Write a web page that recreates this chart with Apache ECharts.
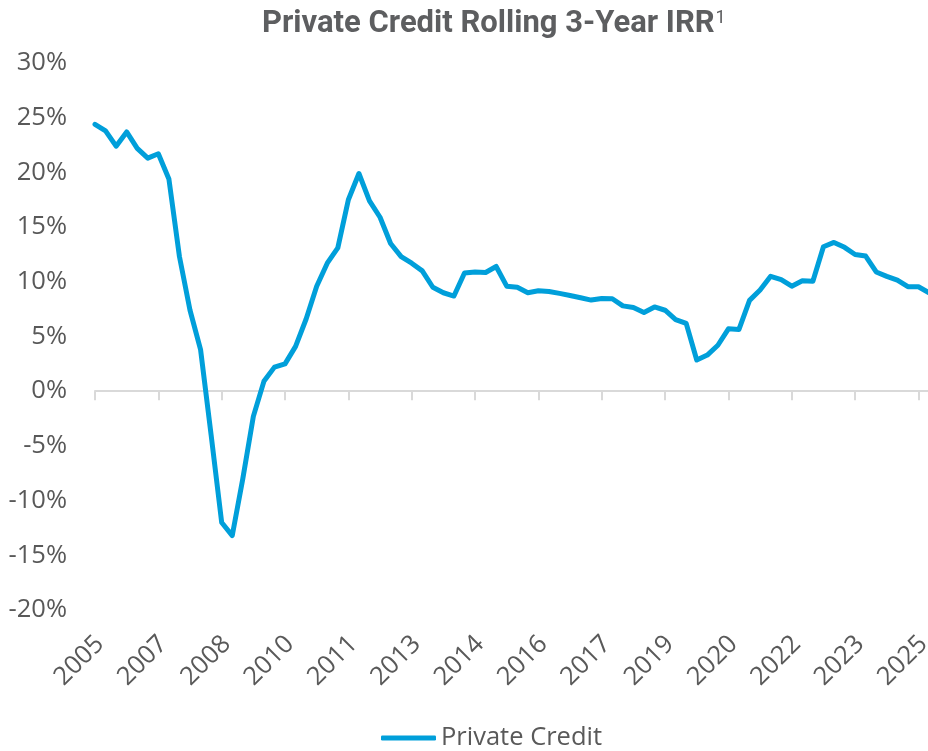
<!DOCTYPE html>
<html>
<head>
<meta charset="utf-8">
<script src="https://cdn.jsdelivr.net/npm/echarts@6/dist/echarts.min.js"></script>
<style>
  html, body { margin: 0; padding: 0; background: #ffffff; }
  #chart { width: 928px; height: 751px; }
</style>
</head>
<body>
<div id="chart"></div>
<script>
// Quarterly observations, 2005 Q4 through 2025 Q3
const categories = [];
for (let y = 2005, q = 4; categories.length < 80; ) {
  categories.push(y + ' Q' + q);
  q++;
  if (q > 4) { q = 1; y++; }
}

// Rolling 3-year IRR, percent
const privateCredit = [
  24.4, 23.8, 22.4, 23.7, 22.2, 21.3, 21.7, 19.4, 12.3, 7.4,
  3.8, -4.0, -12.0, -13.2, -8.0, -2.3, 0.9, 2.2, 2.5, 4.1,
  6.6, 9.6, 11.7, 13.1, 17.5, 19.9, 17.4, 15.9, 13.5, 12.3,
  11.7, 11.0, 9.5, 9.0, 8.7, 10.8, 10.9, 10.85, 11.4, 9.6,
  9.5, 9.0, 9.18, 9.12, 8.94, 8.75, 8.54, 8.33, 8.48, 8.45,
  7.8, 7.65, 7.2, 7.7, 7.4, 6.55, 6.2, 2.85, 3.3, 4.2,
  5.7, 5.65, 8.3, 9.25, 10.5, 10.2, 9.6, 10.1, 10.05, 13.2,
  13.6, 13.15, 12.5, 12.35, 10.9, 10.5, 10.15, 9.55, 9.55, 9.0
];

const yTicks = { min: -20, max: 30, step: 5 };
const labelEvery = 6; // one year label per six quarters

const grey = '#595959';
const blue = '#009FDA';
const axisFont = 'Open Sans';
const axisSize = 25.5;

const chart = echarts.init(document.getElementById('chart'), null, { renderer: 'canvas' });

chart.setOption({
  animation: false,
  backgroundColor: '#ffffff',
  title: {
    text: '{main|Private Credit Rolling 3-Year IRR}{sup|1}',
    left: 262,
    top: 9,
    padding: 0,
    textStyle: {
      rich: {
        main: { fontFamily: 'Roboto', fontWeight: 'bold', fontSize: 31, color: '#5d5e60' },
        sup: { fontFamily: 'Roboto', fontWeight: 'normal', fontSize: 18, color: '#5d5e60', verticalAlign: 'top', padding: [0, 0, 10, 1] }
      }
    }
  },
  legend: {
    data: ['Private Credit'],
    left: 381,
    top: 725,
    padding: 0,
    icon: 'roundRect',
    itemWidth: 55,
    itemHeight: 5,
    textStyle: { fontFamily: axisFont, fontSize: axisSize, color: grey }
  },
  grid: { left: 95, top: 63, width: 834, height: 547, containLabel: false, outerBoundsMode: 'none' },
  xAxis: [
    {
      // year labels along the bottom of the plot
      type: 'category',
      data: categories,
      boundaryGap: false,
      position: 'bottom',
      axisLine: { show: false, onZero: false },
      axisTick: { show: false },
      splitLine: { show: false },
      axisLabel: {
        interval: labelEvery - 1,
        rotate: 45,
        margin: 35,
        padding: [0, -7, 0, 0],
        fontFamily: axisFont,
        fontSize: axisSize,
        color: grey,
        formatter: v => v.slice(0, 4)
      }
    },
    {
      // baseline at 0% with tick marks
      type: 'category',
      data: categories,
      boundaryGap: false,
      position: 'top',
      axisLine: { show: true, onZero: true, lineStyle: { color: '#d9d9d9', width: 2 } },
      axisTick: { show: true, inside: true, length: 9, interval: labelEvery - 1, lineStyle: { color: '#d9d9d9', width: 2 } },
      axisLabel: { show: false },
      splitLine: { show: false }
    }
  ],
  yAxis: {
    type: 'value',
    min: yTicks.min,
    max: yTicks.max,
    interval: yTicks.step,
    axisLine: { show: false },
    axisTick: { show: false },
    splitLine: { show: false },
    axisLabel: {
      margin: 28,
      fontFamily: axisFont,
      fontSize: axisSize,
      color: grey,
      formatter: '{value}%'
    }
  },
  series: [
    {
      name: 'Private Credit',
      type: 'line',
      xAxisIndex: 0,
      data: privateCredit,
      showSymbol: false,
      symbol: 'none',
      smooth: false,
      color: blue,
      lineStyle: { color: blue, width: 5, cap: 'round', join: 'round' }
    }
  ]
});
</script>
</body>
</html>
